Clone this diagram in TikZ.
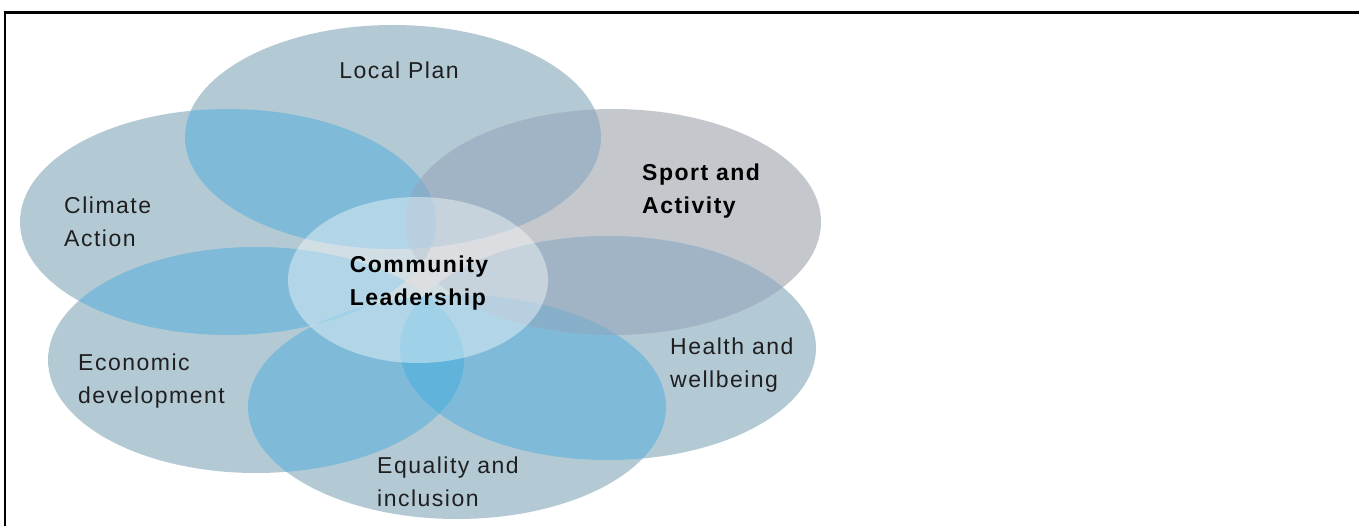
\documentclass[tikz,border=0pt]{standalone}
\usepackage{fontspec}
\setmainfont{Liberation Sans}[LetterSpace=6.5]
\definecolor{petal}{RGB}{179,202,213}
\definecolor{petalgray}{RGB}{196,199,204}
\definecolor{ovblue}{RGB}{127,187,216}
\definecolor{ovgray}{RGB}{160,180,198}
\definecolor{trblue}{RGB}{96,179,218}
\definecolor{trgray}{RGB}{135,175,202}
\definecolor{centrebase}{RGB}{198,202,207}
\newcommand\pLoc{(393,137) ellipse [x radius=208, y radius=112]}
\newcommand\pCli{(228,222) ellipse [x radius=208, y radius=113]}
\newcommand\pSpo{(613,222) ellipse [x radius=208, y radius=113]}
\newcommand\pEco{(256,360) ellipse [x radius=208, y radius=113]}
\newcommand\pHea{(608,348) ellipse [x radius=208, y radius=112]}
\newcommand\pEqu{(457,407) ellipse [x radius=209, y radius=112]}
\newcommand\pCom{(418,280) ellipse [x radius=130, y radius=83]}
\newcommand\twofill[3]{\begin{scope}\clip #1; \fill[#3] #2; \end{scope}}
\newcommand\threefill[4]{\begin{scope}\clip #1; \clip #2; \fill[#4] #3; \end{scope}}
\begin{document}
\begin{tikzpicture}[x=1pt,y=-1pt,
  lbl/.style={font=\fontsize{23}{33}\selectfont, text=black!88, inner sep=0pt, align=left},
  blbl/.style={lbl, font=\fontsize{23}{33}\selectfont\bfseries, text=black}]
\useasboundingbox (0,0) rectangle (1359,526);
\fill[white] (0,0) rectangle (1359,526);
% centre base (uncovered part of the centre)
\fill[centrebase] \pCom;
% single petals
\fill[petal] \pLoc;
\fill[petal] \pCli;
\fill[petalgray] \pSpo;
\fill[petal] \pEco;
\fill[petal] \pHea;
\fill[petal] \pEqu;
% pairwise overlaps
\twofill{\pLoc}{\pCli}{ovblue}
\twofill{\pLoc}{\pEco}{ovblue}
\twofill{\pLoc}{\pHea}{ovblue}
\twofill{\pLoc}{\pEqu}{ovblue}
\twofill{\pCli}{\pEco}{ovblue}
\twofill{\pCli}{\pHea}{ovblue}
\twofill{\pCli}{\pEqu}{ovblue}
\twofill{\pEco}{\pHea}{ovblue}
\twofill{\pEco}{\pEqu}{ovblue}
\twofill{\pHea}{\pEqu}{ovblue}
\twofill{\pSpo}{\pLoc}{ovgray}
\twofill{\pSpo}{\pCli}{ovgray}
\twofill{\pSpo}{\pEco}{ovgray}
\twofill{\pSpo}{\pHea}{ovgray}
\twofill{\pSpo}{\pEqu}{ovgray}
% triple overlaps
\threefill{\pEco}{\pHea}{\pEqu}{trblue}
\threefill{\pCli}{\pEco}{\pEqu}{trblue}
\threefill{\pLoc}{\pCli}{\pSpo}{trgray}
\threefill{\pSpo}{\pHea}{\pEqu}{trgray}
% centre ellipse overlay
\fill[white, opacity=0.4] \pCom;
% frame
\draw[line width=2.5pt] (5,526) -- (5,12.5) -- (1359,12.5);
% labels
\node[lbl] (loc) at (399,70) {Local Plan};
\node[lbl, anchor=west] (cli) at (64,222) {Climate\\Action};
\node[blbl, anchor=west] (spo) at (642,191) {Sport and\\Activity};
\node[blbl] (com) at (419,283) {Community\\Leadership};
\node[lbl, anchor=west] (eco) at (78,381) {Economic\\development};
\node[lbl, anchor=west] (hea) at (670,365) {Health and\\wellbeing};
\node[lbl, anchor=west] (equ) at (377,482) {Equality and\\inclusion};
\end{tikzpicture}
\end{document}
